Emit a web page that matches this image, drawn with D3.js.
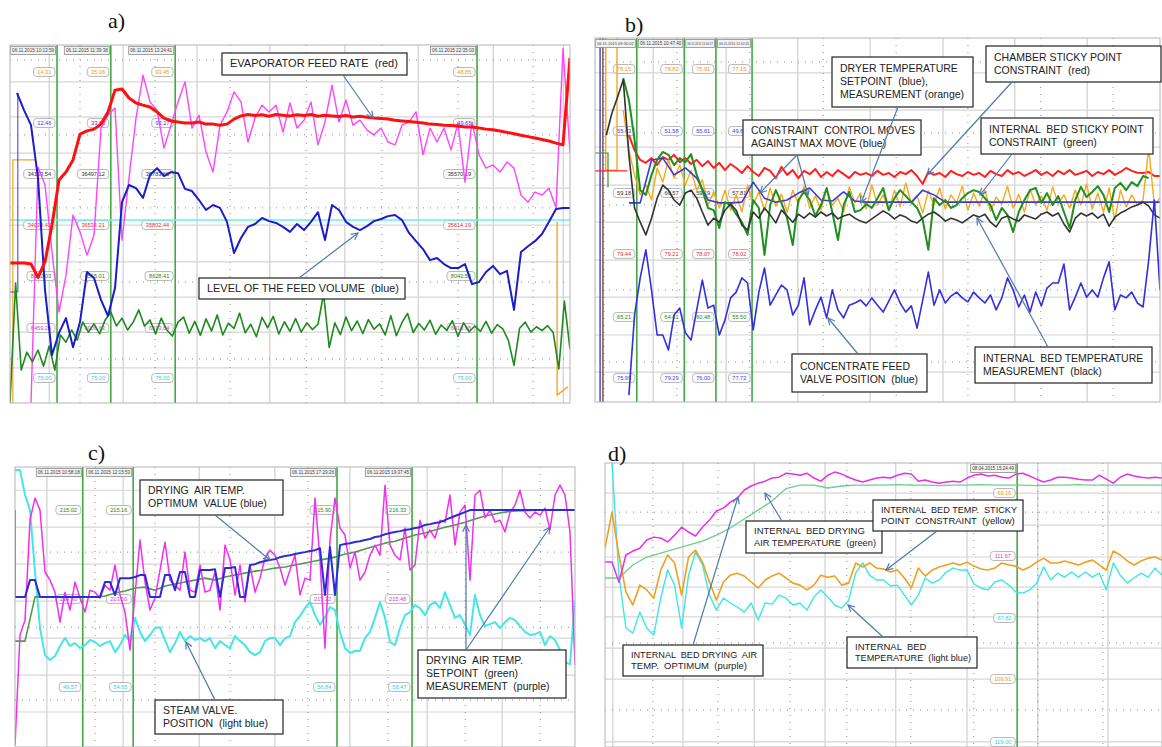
<!DOCTYPE html>
<html>
<head>
<meta charset="utf-8">
<title>Dryer trends a-d</title>
<script src="https://d3js.org/d3.v7.min.js"></script>
<style>
  body { margin: 0; background: #fff; }
  svg { display: block; }
</style>
</head>
<body>
<svg id="chart" width="1162" height="747"></svg>
<script>
// ---------- data: panel a (evaporator) ----------
const aRed = [39.1,39.1,39.1,38.8,35.1,39.4,49.7,62.3,64.5,67.9,
  75.1,76.0,76.5,77.9,81.3,87.4,87.7,85.2,83.8,83.2,
  82.7,81.3,79.6,78.8,78.5,78.2,78.2,78.5,77.9,77.9,
  77.6,77.9,79.3,80.2,80.6,80.3,80.5,80.1,80.6,80.4,
  80.2,80.5,80.3,80.6,80.1,80.4,80.2,80.0,80.3,79.9,
  80.1,79.8,79.6,79.5,79.3,79.0,78.8,78.6,78.4,78.2,
  77.9,77.8,77.6,77.5,77.4,77.1,77.1,76.8,76.5,76.3,
  76.0,75.6,75.2,74.8,74.4,74.0,73.6,73.2,72.6,72.1,96.4];
const aMagenta = [null,null,null,0,65.9,60.9,42.2,25.4,35.7,52.5,
  47.8,41.3,46.9,76.8,80.4,82.4,45.5,62.8,79.6,91.6,
  84.1,81.8,71.2,77.6,84.1,89.7,76.8,80.4,70.1,64.5,
  77.6,81.3,86.9,84.1,72.9,79.6,83.2,81.3,83.2,75.7,
  83.8,76.8,79.0,84.1,72.1,78.5,88.8,78.5,84.6,77.6,
  79.0,76.2,74.9,76.8,72.9,72.1,77.6,78.5,81.3,69.3,
  76.8,72.9,76.8,70.7,78.2,61.7,78.5,69.3,65.6,66.5,
  64.5,67.3,65.6,58.1,56.1,58.9,58.1,60.0,54.5,99,70];
const aBlue = [null,86.6,81.8,77.6,62.8,31.6,13.4,19.6,23.7,15.6,
  22.6,36.6,34.9,28.8,24.3,32.1,56.1,60.9,60.0,57.3,
  63.7,65.6,63.4,64.5,64.2,59.8,59.2,56.7,53.9,55.3,
  54.5,50.6,41.9,46.1,49.2,50.0,51.7,50.8,50.3,49.2,
  47.8,50.0,48.3,50.6,53.3,45.5,55.3,53.9,50.6,49.2,
  48.3,49.4,50.8,51.4,52.2,52.5,51.1,47.5,45.2,43.0,
  39.9,40.5,38.8,37.7,37.7,38.8,33.2,33.8,36.6,38.3,
  36.0,36.9,26.0,42.2,43.8,45.2,47.2,50.6,54.2,54.5,54.5];
const aGreen = [0,33.5,9.2,14.2,11.5,14.8,10.3,15.9,9.2,19.0,
  17.0,20.4,17.6,22.6,19.8,22.1,19.3,23.2,25.4,21.5,
  23.7,20.4,22.6,26.0,21.5,23.2,19.3,23.7,20.4,18.7,
  22.6,24.0,19.5,22.8,18.9,23.5,20.1,24.6,19.0,22.3,
  20.8,25.1,19.6,22.0,18.5,23.9,21.0,24.2,19.3,22.7,
  20.0,23.6,19.8,22.4,20.5,22.0,30.5,15.5,22.4,19.1,
  24.0,20.2,22.9,19.4,23.3,20.6,22.1,19.0,24.4,18.8,
  22.5,25.0,19.7,22.2,20.4,23.1,19.2,21.8,20.3,23.0,
  18.6,22.4,19.9,21.5,20.0,22.8,19.5,21.9,20.7,17.5,
  10.5,20.9,22.6,19.8,21.3,20.2,21.6,19.7,9.5,28.5,15];
const aCyanLevel = [51.1, 51.1];
const aOrangeLeft = [[0.5,0],[0.5,67.9],[4.5,67.9]];
const aOrangeRight = [[97.7,50.6],[97.7,2.2],[99.6,4.5]];
const aBlueLeft = [[0,31],[1.4,31],[1.4,86.6]];
const aStamps = ["06.11.2015 10:13:59","06.11.2015 11:39:38","06.11.2015 13:24:41","06.11.2015 22:35:03"];
const aTags = [
  ["14.31","12.46","34153.54","34020.42","8152.03","6459.29","75.00"],
  ["35.06","33.63","36497.12","36534.21","8565.01","6906.63","75.00"],
  ["93.45","93.17","35783.66","35802.44","8628.41","6913.84","75.00"],
  ["48.85","49.65","35570.19","35614.19","8042.56","6918.98","75.00"]];
const aCursors = [8.4,18.0,29.5,83.4];
const aGridX = [7.0,20.2,33.4,46.4,59.8,72.9,86.3,98.8];
const aGridDotX = [12.5,25.9,39.3,52.9,66.4,80.0,93.4];
const aGridY = [89.7,79.9,69.8,60.0,49.7,39.4,29.6,19.8,9.8];
const aGridDotY = [95.8,74.9,54.5,33.8,12.3];

// ---------- data: panel b (dryer) ----------
const bRed = [null,null,null,null,null,null,73.3,69.2,66.5,65.7,
  67.0,65.1,67.3,66.5,67.9,65.9,67.0,65.4,66.5,64.8,
  66.2,64.3,65.7,63.7,65.4,64.3,62.9,64.8,63.2,62.1,
  64.3,63.5,61.5,64.6,62.4,63.7,61.5,63.5,62.6,64.0,
  61.8,63.2,62.1,63.7,62.6,61.5,63.2,62.4,62.9,62.1,
  63.5,62.4,62.9,61.8,63.2,62.6,63.7,62.1,59.9,63.2,
  62.4,62.9,61.8,63.5,62.6,62.1,63.2,62.4,62.9,61.8,
  63.5,62.6,62.1,63.7,62.6,63.2,62.1,62.9,63.7,62.4,
  63.2,62.1,63.5,62.6,63.7,62.4,62.9,63.5,62.1,63.2,
  62.6,63.7,62.4,63.2,64.3,63.5,63.0,62.9,63.2,62.1,62.1];
const bGreen = [null,null,null,null,null,89.0,83.0,72.0,58.2,56.9,
  62.4,66.5,68.7,67.9,65.1,67.0,65.9,68.1,62.4,58.2,
  53.3,52.7,47.8,54.9,54.1,51.6,49.4,45.9,55.5,53.3,
  40.4,54.1,58.2,54.7,50.5,43.1,55.5,57.7,55.5,51.1,
  54.1,58.8,52.2,44.5,54.1,57.7,52.2,52.7,54.4,53.3,
  56.0,58.8,52.7,56.0,58.2,56.6,54.9,53.3,50.0,41.8,
  56.0,54.1,55.5,53.3,54.1,56.0,57.4,58.2,57.7,56.0,
  54.1,50.0,53.3,51.4,46.7,52.2,55.5,58.2,58.8,54.7,
  57.4,54.1,56.6,52.2,47.8,55.5,59.1,56.3,57.7,59.3,
  56.9,52.2,58.8,60.2,58.2,60.4,59.3,62.1,61.5,null,null];
const bOrange = [null,null,null,null,null,80.2,69.2,62.4,56.9,59.6,
  55.5,64.3,60.4,66.5,61.5,65.1,59.6,63.7,58.2,61.0,
  54.1,57.7,53.3,58.2,52.7,56.9,52.2,59.6,54.1,57.7,
  52.7,58.8,53.8,57.1,52.2,58.2,54.4,59.3,53.3,56.6,
  52.7,58.5,54.1,56.0,52.2,59.1,54.7,57.4,53.0,59.6,
  54.1,56.9,52.7,58.2,53.6,60.2,54.4,56.6,51.9,58.0,
  54.1,58.8,53.0,56.9,54.7,59.3,52.7,57.4,53.8,58.2,
  52.4,56.3,54.4,59.3,53.3,57.1,52.2,58.5,54.1,56.6,
  52.7,59.1,54.4,56.9,53.3,58.2,54.1,59.9,53.0,57.4,
  52.2,58.8,50.0,58.2,53.6,56.9,54.1,55.5,69.8,54.1,56.0];
const bSetpoint = [null,null,null,54.7,54.7,66.5,67.0,62.4,64.3,61.5,
  55.5,54.7,54.7,54.9,60.4,56.0,54.9,55.5,57.4,58.8,
  55.5,55.2,57.7,55.2,54.9,54.9,54.9,54.9,54.9,58.2,
  56.9,54.9,54.9,54.9,54.9,54.9,54.9,54.9,54.9,54.9,
  54.9,54.9,54.9,54.9,54.9,54.9,54.9,54.9,54.9,54.9,54.9];
const bBlack = [null,null,73.3,79.4,83.8,88.5,67.9,53.3,49.4,45.9,
  50.5,56.0,59.6,58.2,55.5,54.1,57.4,58.2,56.0,52.2,
  48.6,50.5,49.4,52.7,54.4,52.7,48.6,47.2,52.2,50.5,
  53.3,51.4,49.2,52.7,51.1,49.4,51.6,50.5,51.9,50.8,
  52.2,51.1,51.9,50.3,51.1,51.6,50.5,49.7,49.2,50.3,
  51.4,52.5,51.6,50.3,51.4,50.8,49.7,49.2,50.5,51.6,
  52.2,51.1,49.7,50.5,50.0,49.2,50.3,51.4,50.8,51.6,
  49.4,48.1,50.5,51.1,50.3,49.7,51.4,50.8,50.3,51.6,
  52.2,51.1,51.9,48.9,46.7,50.5,51.9,51.1,51.9,50.5,
  51.6,48.3,50.8,51.9,52.7,53.6,54.1,54.9,53.8,51.4,50.5];
const bValve = [null,null,null,null,null,null,1.9,23.9,34.1,41.8,
  30.8,18.4,18.4,14.3,23.9,25.8,19.0,17.0,25.3,33.5,
  25.8,26.6,18.4,22.5,28.6,30.2,34.1,32.7,19.8,30.2,
  36.8,26.6,29.4,32.1,30.8,23.9,26.6,34.1,21.2,25.3,
  28.8,23.1,30.8,25.3,23.1,26.6,27.2,28.0,26.4,28.6,
  26.6,24.7,27.7,30.8,27.2,24.7,26.4,20.3,28.0,35.7,
  26.6,30.8,27.2,29.1,30.2,28.6,27.5,30.2,28.6,27.2,
  29.4,25.3,28.6,34.1,30.8,26.1,29.4,24.7,30.2,26.4,
  31.3,32.7,32.7,37.9,25.3,28.8,32.7,28.8,30.8,28.8,
  34.1,38.5,25.3,29.4,28.6,30.2,27.2,26.1,39.0,55.5,30.8];
const bEdgeBlue = [[0.9,0],[0.9,100]];
const bEdgeBrown = [[1.4,0],[1.4,100]];
const bEdgeOrange = [[1.9,100],[1.9,63.7],[3.9,63.7],[3.9,100]];
const bEdgeGreen = [[0,68.4],[2.3,68.4],[2.3,59.0]];
const bEdgeRed = [[0,63.5],[5.7,63.5]];
const bStamps = ["06.11.2015 09:30:02","06.11.2015 10:47:40","06.11.2015 11:46:17","06.11.2015 12:42:05"];
const bTags = [
  ["76.15","55.43","59.18","79.44","65.21","75.99"],
  ["78.82","51.58","60.57","79.21","64.61","79.29"],
  ["75.91","55.61","59.19","78.07","60.48","76.00"],
  ["77.15","49.63","57.81","78.02","55.50","77.72"]];
const bCursors = [7.4,15.8,21.4,27.8];
const bGridX = [10.3,23.2,35.9,48.7,61.6,74.3,87.1];
const bGridDotX = [1.6,14.5,27.4,40.4,53.3,66.0,78.9,91.7];
const bGridY = [90.4,80.2,70.0,59.6,49.4,39.0,28.8,18.4,8.2];
const bGridDotY = [93.4,73.9,54.1,30.8,11.0];

// ---------- data: panel c (drying air) ----------
const cMagenta = [0.7,40.0,45.3,81.0,88.9,84.6,62.5,59.6,55.3,44.6,
  55.3,48.9,58.9,53.2,48.2,56.0,55.3,53.2,57.8,56.0,
  65.0,54.3,48.2,34.6,54.3,73.9,58.9,48.9,53.2,63.2,
  73.2,59.6,57.8,56.0,69.6,56.0,55.3,65.0,55.3,56.0,
  62.5,48.9,72.1,66.8,54.3,65.0,51.8,65.0,55.3,60.3,
  67.5,70.3,68.5,63.9,57.8,63.2,68.5,54.3,60.3,59.6,
  88.9,66.8,35.3,73.9,88.9,78.2,75.7,63.9,69.6,59.6,
  62.5,68.5,72.1,68.5,93.5,72.1,68.5,66.8,78.2,63.2,
  65.0,81.0,74.6,77.5,74.6,81.0,80.3,90.0,72.1,83.9,
  86.4,59.6,90.0,91.7,81.8,84.6,80.3,81.0,76.8,83.9,
  86.4,91.7,83.9,81.8,83.9,82.8,85.3,77.5,90.0,93.5,
  90.0,76.8,29.3];
const cBlue = [53.6,53.6,53.6,59.6,59.6,53.6,53.6,53.6,53.6,53.6,
  53.6,53.6,53.6,53.6,53.6,53.6,53.6,53.6,58.9,58.9,
  54.3,60.3,60.3,60.3,60.7,61.4,61.4,53.6,53.6,53.6,
  61.4,61.4,56.0,62.5,62.5,53.6,53.6,63.2,63.2,63.2,
  63.5,53.6,63.9,63.9,64.3,53.6,53.6,65.0,65.3,66.0,
  66.4,66.8,67.1,67.8,68.2,68.5,68.9,69.3,69.6,70.0,
  70.3,71.0,54.3,71.4,54.3,72.1,72.5,72.8,73.2,73.5,
  73.9,74.3,75.0,75.3,76.0,76.4,76.8,77.1,77.5,77.8,
  78.2,78.5,79.3,79.6,80.0,80.3,81.0,81.8,82.5,83.2,
  83.9,84.6,84.6,84.6,84.6,84.6,84.6,84.6,84.6,84.6,
  84.6,84.6,84.6,84.6,84.6,84.6,84.6,84.6,84.6,84.6,
  84.6,84.6,84.6];
const cGreen = [37.8,37.8,53.6,53.6,53.6,53.6,53.6,53.6,53.6,53.9,
  55.0,55.7,56.8,57.1,56.0,57.5,58.2,58.9,59.6,60.3,
  59.6,60.7,61.4,62.1,62.8,63.2,63.9,64.3,65.0,65.7,
  66.4,67.1,67.8,68.9,69.6,70.7,71.8,72.8,73.5,74.6,
  75.7,76.4,77.5,78.5,79.3,80.3,81.4,82.5,83.2,83.9,
  84.3,84.4,84.6,84.6,84.6,84.6,84.6];
const cCyan = [98.9,98.9,90.0,84.6,62.5,42.5,32.8,31.1,32.5,36.1,
  38.9,36.1,37.1,35.3,36.4,38.2,37.5,36.1,37.1,37.8,
  33.9,36.4,40.0,37.8,46.1,41.1,37.8,40.0,42.5,42.8,
  38.2,33.9,37.1,41.1,37.8,39.6,38.2,38.9,37.8,38.9,
  35.3,37.8,36.4,35.3,39.6,37.8,36.4,33.9,32.8,33.9,
  37.8,38.9,38.9,36.4,38.9,39.6,44.6,46.8,49.6,51.8,
  47.1,43.6,46.4,50.0,48.9,41.1,35.3,33.6,34.3,34.3,
  38.9,41.1,46.1,51.8,46.1,37.5,36.4,42.5,47.1,48.2,
  50.7,49.6,47.1,50.7,51.8,49.6,55.3,50.7,46.1,47.1,
  43.6,40.0,54.3,47.1,43.2,43.9,44.6,42.5,44.6,46.1,
  45.3,43.2,41.1,40.0,40.3,41.1,36.4,39.6,38.2,34.6,
  30.3,29.6,52.5];
const cEdgeBlue = [[0,84.6],[0,53.6]];
const cStamps = ["06.11.2015 10:58:18","06.11.2015 12:15:53","06.11.2015 17:29:26","06.11.2015 19:37:45"];
const cTags = [
  ["215.02","214.70","49.57"],
  ["215.16","213.60","54.65"],
  ["215.90","217.22","56.84"],
  ["216.33","215.48","58.47"]];
const cCursors = [12.1,21.1,57.5,70.9];
const cGridX = [5.7,19.3,32.9,46.4,59.8,73.6,87.0];
const cGridDotX = [14.3,25.0,38.4,52.3,66.6,80.4,93.8];
const cGridY = [91.7,78.5,65.3,52.1,38.9,25.7,12.5];
const cGridDotY = [69.6,42.8,16.8];

// ---------- data: panel d (internal bed) ----------
const dMagenta = [65.1,65.1,58.0,67.6,69.0,70.0,72.9,73.9,73.6,72.2,
  74.6,77.4,75.7,74.3,77.4,79.9,83.1,84.1,86.2,87.6,
  90.5,91.9,92.9,93.6,94.7,95.0,96.4,96.1,95.7,96.4,
  94.7,93.6,95.7,96.8,96.1,95.0,94.0,93.3,94.0,94.7,
  95.0,94.7,95.7,96.4,96.1,93.6,94.0,93.3,92.9,93.3,
  93.6,93.3,94.7,95.7,96.1,95.4,95.7,95.0,94.7,96.1,
  96.4,95.4,94.3,93.3,94.0,95.0,95.0,94.7,94.3,94.0,
  94.0,95.7,94.3,92.9,95.0,96.1,95.4,95.0,94.7,95.0,94.7];
const dGreen = [59.5,59.5,64.1,66.9,68.3,69.7,71.1,72.5,74.6,77.1,
  80.3,83.4,86.6,91.0,92.2,92.2,91.2,91.9,92.2,92.2,
  92.2,92.4,92.2,92.2,92.0,92.2,92.2,92.4,92.2,92.2,
  92.2,92.0,92.2,92.2,92.4,92.2,92.2,92.2,92.2,92.2,92.2];
const dOrange = [70.0,82.7,67.6,54.6,50.0,57.0,55.3,52.4,62.3,67.6,
  64.8,53.5,66.9,69.3,65.1,58.1,51.7,58.1,60.5,61.2,
  60.2,58.1,56.0,58.8,60.2,61.2,59.5,57.7,57.0,55.3,
  57.0,60.5,59.8,60.2,57.0,57.7,64.8,63.4,64.8,63.0,
  62.7,61.6,62.3,59.5,56.0,63.0,60.2,62.3,63.4,64.1,
  64.8,64.1,65.1,63.7,62.7,62.3,63.0,64.8,64.1,63.7,
  62.3,63.4,65.1,66.5,64.8,64.8,65.5,64.8,64.1,65.1,
  65.8,64.1,62.3,69.0,67.6,65.5,64.1,65.5,66.5,66.9,65.8];
const dCyan = [null,100,60.5,41.9,40.1,47.5,41.9,39.4,52.4,62.3,
  57.0,41.9,60.5,68.6,64.1,53.5,48.2,52.4,50.7,49.3,
  47.5,50.7,44.7,50.7,50.3,53.5,52.4,50.0,50.7,48.2,
  52.8,55.3,52.8,50.0,48.9,51.7,61.2,64.8,60.5,58.8,
  58.8,56.7,57.0,53.5,50.0,53.5,59.5,57.7,58.8,61.6,
  63.0,62.3,62.3,57.4,56.0,55.3,58.1,58.8,57.0,54.6,
  54.2,55.3,57.7,63.4,58.8,61.2,59.8,61.6,59.8,61.6,
  59.8,61.2,55.3,64.8,60.5,57.7,59.5,61.2,59.8,63.0,60.5];
const dStamps = ["08.04.2015 15:24:49"];
const dTags = [["69.16","111.67","67.82","109.91","119.00"]];
const dCursors = [74.0];
const dGridX = [1.4,14.0,26.8,39.5,52.2,65.0,77.7,90.3];
const dGridDotX = [8.6,20.3,33.2,43.4,54.9,66.2,77.7,89.4];
const dGridY = [89.4,78.1,66.9,56.3,45.8,34.8,23.9,1.8];
const dGridDotY = [82.7,36.6,13.0];

// ---------- layout ----------
const FONT = "'Liberation Sans', Arial, sans-serif";
const svg = d3.select('#chart');
const defs = svg.append('defs');
defs.append('marker').attr('id', 'arrow')
  .attr('viewBox', '0 0 10 10').attr('refX', 9).attr('refY', 5)
  .attr('markerWidth', 7).attr('markerHeight', 7).attr('orient', 'auto')
  .append('path').attr('d', 'M1,1 L9,5 L1,9')
  .attr('fill', 'none').attr('stroke', '#4f79ad').attr('stroke-width', 1.4);

function makePanel(key, box, grid) {
  const p = Object.assign({key: key}, box);
  p.x = d3.scaleLinear().domain([0, 100]).range([box.x0, box.x1]);
  p.y = d3.scaleLinear().domain([0, 100]).range([box.y1, box.y0]);
  defs.append('clipPath').attr('id', 'clip-' + key).append('rect')
    .attr('x', box.x0).attr('y', box.y0)
    .attr('width', box.x1 - box.x0).attr('height', box.y1 - box.y0);
  p.g = svg.append('g');
  p.body = p.g.append('g').attr('clip-path', 'url(#clip-' + key + ')');
  p.body.append('rect').attr('x', box.x0).attr('y', box.y0)
    .attr('width', box.x1 - box.x0).attr('height', box.y1 - box.y0).attr('fill', '#fff');

  // solid grid
  p.body.selectAll(null).data(grid.x).join('line')
    .attr('x1', d => p.x(d)).attr('x2', d => p.x(d))
    .attr('y1', box.y0).attr('y2', box.y1)
    .attr('stroke', '#cfcfcf').attr('stroke-width', 1.2);
  p.body.selectAll(null).data(grid.y).join('line')
    .attr('y1', d => p.y(d)).attr('y2', d => p.y(d))
    .attr('x1', box.x0).attr('x2', box.x1)
    .attr('stroke', '#d6d6d6').attr('stroke-width', 1.2);
  // dotted grid
  p.body.selectAll(null).data(grid.dx).join('line')
    .attr('x1', d => p.x(d)).attr('x2', d => p.x(d))
    .attr('y1', box.y0).attr('y2', box.y1)
    .attr('stroke', '#8a8a8a').attr('stroke-width', 1).attr('stroke-dasharray', '1,6');
  p.body.selectAll(null).data(grid.dy).join('line')
    .attr('y1', d => p.y(d)).attr('y2', d => p.y(d))
    .attr('x1', box.x0).attr('x2', box.x1)
    .attr('stroke', '#8a8a8a').attr('stroke-width', 1).attr('stroke-dasharray', '1,6');
  // cursors
  p.body.selectAll(null).data(grid.cursors).join('line')
    .attr('x1', d => p.x(d)).attr('x2', d => p.x(d))
    .attr('y1', box.y0).attr('y2', box.y1)
    .attr('stroke', '#44a844').attr('stroke-width', 1.6);
  p.cursors = grid.cursors;
  return p;
}

function trace(p, values, color, width) {
  const xi = d3.scaleLinear().domain([0, values.length - 1]).range([p.x0, p.x1]);
  const line = d3.line().defined(d => d !== null).x((d, i) => xi(i)).y(d => p.y(d));
  p.body.append('path').datum(values)
    .attr('fill', 'none').attr('stroke', color).attr('stroke-width', width)
    .attr('stroke-linejoin', 'round').attr('d', line);
}

function steps(p, pts, color, width) {
  const line = d3.line().x(d => p.x(d[0])).y(d => p.y(d[1]));
  p.body.append('path').datum(pts)
    .attr('fill', 'none').attr('stroke', color).attr('stroke-width', width).attr('d', line);
}

// value tags, right aligned to each cursor
function tags(p, columns, rows, colors) {
  columns.forEach((col, ci) => {
    const right = p.x(p.cursors[ci]) - 2;
    col.forEach((txt, ri) => {
      const w = txt.length * 3.3 + 5;
      p.body.append('rect').attr('x', right - w).attr('y', rows[ri] - 4.5)
        .attr('width', w).attr('height', 9).attr('rx', 3)
        .attr('fill', '#fbfbfb').attr('stroke', '#a8a8a8').attr('stroke-width', 0.8);
      p.body.append('text').attr('x', right - w / 2).attr('y', rows[ri] + 2)
        .attr('text-anchor', 'middle').attr('font-family', FONT).attr('font-size', 5.6)
        .attr('fill', colors[ri]).text(txt);
    });
  });
}

// timestamp boxes at the top of every cursor; smaller type when the gap is short
function stamps(p, labels) {
  labels.forEach((txt, i) => {
    const right = p.x(p.cursors[i]) - 1;
    const prev = i === 0 ? p.x0 : p.x(p.cursors[i - 1]) + 1;
    const left = Math.max(prev, right - 46);
    p.g.append('rect').attr('x', left + 0.5).attr('y', p.y0 + 1.5)
      .attr('width', right - left - 1).attr('height', 8)
      .attr('fill', '#f2f2f2').attr('stroke', '#8c8c8c').attr('stroke-width', 0.8);
    const el = p.g.append('text').attr('x', right - 2).attr('y', p.y0 + 7.3)
      .attr('text-anchor', 'end').attr('font-family', FONT).attr('font-size', 4.8)
      .attr('fill', '#444').text(txt);
    const room = right - left - 4;
    const len = el.node().getComputedTextLength();
    if (len > room) el.attr('font-size', (4.8 * room / len).toFixed(2));
  });
}

function frame(p) {
  p.g.append('rect').attr('x', p.x0).attr('y', p.y0)
    .attr('width', p.x1 - p.x0).attr('height', p.y1 - p.y0)
    .attr('fill', 'none').attr('stroke', '#b4b4b4').attr('stroke-width', 1);
}

// ---------- panel a ----------
const A = makePanel('a', {x0: 10, x1: 570, y0: 45, y1: 403},
  {x: aGridX, dx: aGridDotX, y: aGridY, dy: aGridDotY, cursors: aCursors});
tags(A, aTags, [72, 123, 174, 225, 276, 328, 378],
  ['#f0a020', '#4040ff', '#333', '#ee3030', '#2a8a2a', '#e040e0', '#30d8e8']);
trace(A, aCyanLevel, '#66f0f0', 1.6);
steps(A, aOrangeLeft, '#f5a623', 1.2);
steps(A, aOrangeRight, '#f5a623', 1.4);
steps(A, aBlueLeft, '#3a3ae0', 1);
trace(A, aMagenta, '#ff44ff', 1.4);
trace(A, aGreen, '#1e8a1e', 1.6);
trace(A, aBlue, '#1c1cc8', 2);
trace(A, aRed, '#ff1010', 3);
stamps(A, aStamps);
frame(A);

// ---------- panel b ----------
const B = makePanel('b', {x0: 595, x1: 1160, y0: 38, y1: 402},
  {x: bGridX, dx: bGridDotX, y: bGridY, dy: bGridDotY, cursors: bCursors});
tags(B, bTags, [69, 131, 193, 254, 317, 378],
  ['#f0a020', '#4040ff', '#333', '#ee3030', '#2a8a2a', '#4040ff']);
steps(B, bEdgeBlue, '#3a3ae0', 1.4);
steps(B, bEdgeBrown, '#7a4a2a', 1.4);
steps(B, bEdgeOrange, '#f5a623', 1.4);
steps(B, bEdgeGreen, '#2a9a2a', 1.2);
steps(B, bEdgeRed, '#ff2020', 1.2);
trace(B, bRed, '#ff2020', 2);
trace(B, bOrange, '#f8a818', 1.4);
trace(B, bSetpoint, '#3838e0', 1.6);
trace(B, bGreen, '#1f8f1f', 2);
trace(B, bBlack, '#333333', 1.6);
trace(B, bValve, '#3030e0', 1.6);
stamps(B, bStamps);
frame(B);

// ---------- panel c ----------
const C = makePanel('c', {x0: 15, x1: 575, y0: 467, y1: 747},
  {x: cGridX, dx: cGridDotX, y: cGridY, dy: cGridDotY, cursors: cCursors});
tags(C, cTags, [510, 599, 687], ['#2a8a2a', '#e040e0', '#30d8e8']);
steps(C, cEdgeBlue, '#2b2bd8', 1.4);
trace(C, cCyan, '#45e6e6', 2);
trace(C, cGreen, '#4f9a4f', 1.6);
trace(C, cMagenta, '#f030f0', 1.5);
trace(C, cBlue, '#2b2bd8', 2);
stamps(C, cStamps);
frame(C);

// ---------- panel d ----------
const D = makePanel('d', {x0: 605, x1: 1162, y0: 463, y1: 747},
  {x: dGridX, dx: dGridDotX, y: dGridY, dy: dGridDotY, cursors: dCursors});
tags(D, dTags, [493, 556, 618, 679, 742], ['#f0a020', '#e040e0', '#30d8e8', '#f0a020', '#30d8e8']);
trace(D, dGreen, '#6ccf8a', 1.3);
trace(D, dCyan, '#3fe6e6', 1.4);
trace(D, dOrange, '#f0a020', 1.6);
trace(D, dMagenta, '#e830e8', 1.5);
stamps(D, dStamps);
frame(D);

// ---------- panel letters ----------
[['a)', 108, 28], ['b)', 625, 32], ['c)', 88, 460], ['d)', 608, 461]].forEach(([t, x, y]) => {
  svg.append('text').attr('x', x).attr('y', y)
    .attr('font-family', "'Liberation Serif', 'Times New Roman', serif")
    .attr('font-size', 22).attr('fill', '#111').text(t);
});

// ---------- callout boxes ----------
const notes = [
  {x: 222, y: 53, w: 185, h: 22, fs: 11, lines: ['EVAPORATOR FEED RATE  (red)'], arrows: [[343, 75, 373, 118]]},
  {x: 199, y: 278, w: 206, h: 21, fs: 11, lines: ['LEVEL OF THE FEED VOLUME  (blue)'], arrows: [[299, 278, 358, 233]]},
  {x: 832, y: 57, w: 141, h: 50, fs: 10.5, lines: ['DRYER TEMPERATURE', 'SETPOINT  (blue),', 'MEASUREMENT (orange)'], arrows: [[898, 107, 861, 203]]},
  {x: 986, y: 46, w: 175, h: 36, fs: 10.5, lines: ['CHAMBER STICKY POINT', 'CONSTRAINT  (red)'], arrows: [[1012, 82, 927, 175]]},
  {x: 743, y: 120, w: 178, h: 35, fs: 10.5, lines: ['CONSTRAINT  CONTROL MOVES', 'AGAINST MAX MOVE (blue)'], arrows: [[797, 155, 760, 193], [797, 155, 808, 195]]},
  {x: 981, y: 118, w: 172, h: 36, fs: 10.5, lines: ['INTERNAL  BED STICKY POINT', 'CONSTRAINT  (green)'], arrows: [[1012, 154, 980, 195]]},
  {x: 792, y: 354, w: 135, h: 38, fs: 10.5, lines: ['CONCENTRATE FEED', 'VALVE POSITION  (blue)'], arrows: [[858, 354, 828, 318]]},
  {x: 975, y: 347, w: 177, h: 36, fs: 10.5, lines: ['INTERNAL  BED TEMPERATURE', 'MEASUREMENT  (black)'], arrows: [[1048, 347, 977, 218]]},
  {x: 140, y: 480, w: 143, h: 35, fs: 10.5, lines: ['DRYING  AIR TEMP.', 'OPTIMUM  VALUE (blue)'], arrows: [[215, 515, 270, 560]]},
  {x: 155, y: 700, w: 128, h: 34, fs: 10.5, lines: ['STEAM VALVE.', 'POSITION  (light blue)'], arrows: [[215, 700, 186, 642]]},
  {x: 418, y: 650, w: 148, h: 48, fs: 10.5, lines: ['DRYING  AIR TEMP.', 'SETPOINT  (green)', 'MEASUREMENT  (purple)'], arrows: [[466, 650, 466, 525], [466, 650, 550, 527]]},
  {x: 746, y: 521, w: 136, h: 32, fs: 9.5, lines: ['INTERNAL  BED DRYING', 'AIR TEMPERATURE  (green)'], arrows: [[782, 521, 765, 493]]},
  {x: 873, y: 500, w: 150, h: 31, fs: 9.5, lines: ['INTERNAL  BED TEMP.  STICKY', 'POINT  CONSTRAINT  (yellow)'], arrows: [[937, 531, 886, 570]]},
  {x: 623, y: 645, w: 140, h: 31, fs: 9.5, lines: ['INTERNAL  BED DRYING  AIR', 'TEMP.  OPTIMUM  (purple)'], arrows: [[693, 645, 738, 497]]},
  {x: 847, y: 637, w: 130, h: 31, fs: 9.5, lines: ['INTERNAL  BED', 'TEMPERATURE  (light blue)'], arrows: [[883, 637, 848, 605]]}
];

const noteLayer = svg.append('g');
notes.forEach(n => {
  noteLayer.append('rect').attr('x', n.x).attr('y', n.y).attr('width', n.w).attr('height', n.h)
    .attr('fill', '#fff').attr('stroke', '#222').attr('stroke-width', 1.2);
  const lh = n.fs * 1.22;
  const top = n.y + (n.h - lh * n.lines.length) / 2;
  const maxW = n.w - 14;
  n.lines.forEach((t, i) => {
    const el = noteLayer.append('text').attr('x', n.x + 8).attr('y', top + lh * (i + 1) - lh * 0.25)
      .attr('font-family', FONT).attr('font-size', n.fs).attr('fill', '#222')
      .attr('xml:space', 'preserve').text(t);
    const len = el.node().getComputedTextLength();
    if (len > maxW) el.attr('textLength', maxW).attr('lengthAdjust', 'spacingAndGlyphs');
  });
});
notes.forEach(n => {
  n.arrows.forEach(a => {
    noteLayer.append('line').attr('x1', a[0]).attr('y1', a[1]).attr('x2', a[2]).attr('y2', a[3])
      .attr('stroke', '#4f79ad').attr('stroke-width', 1.2).attr('marker-end', 'url(#arrow)');
  });
});
</script>
</body>
</html>
